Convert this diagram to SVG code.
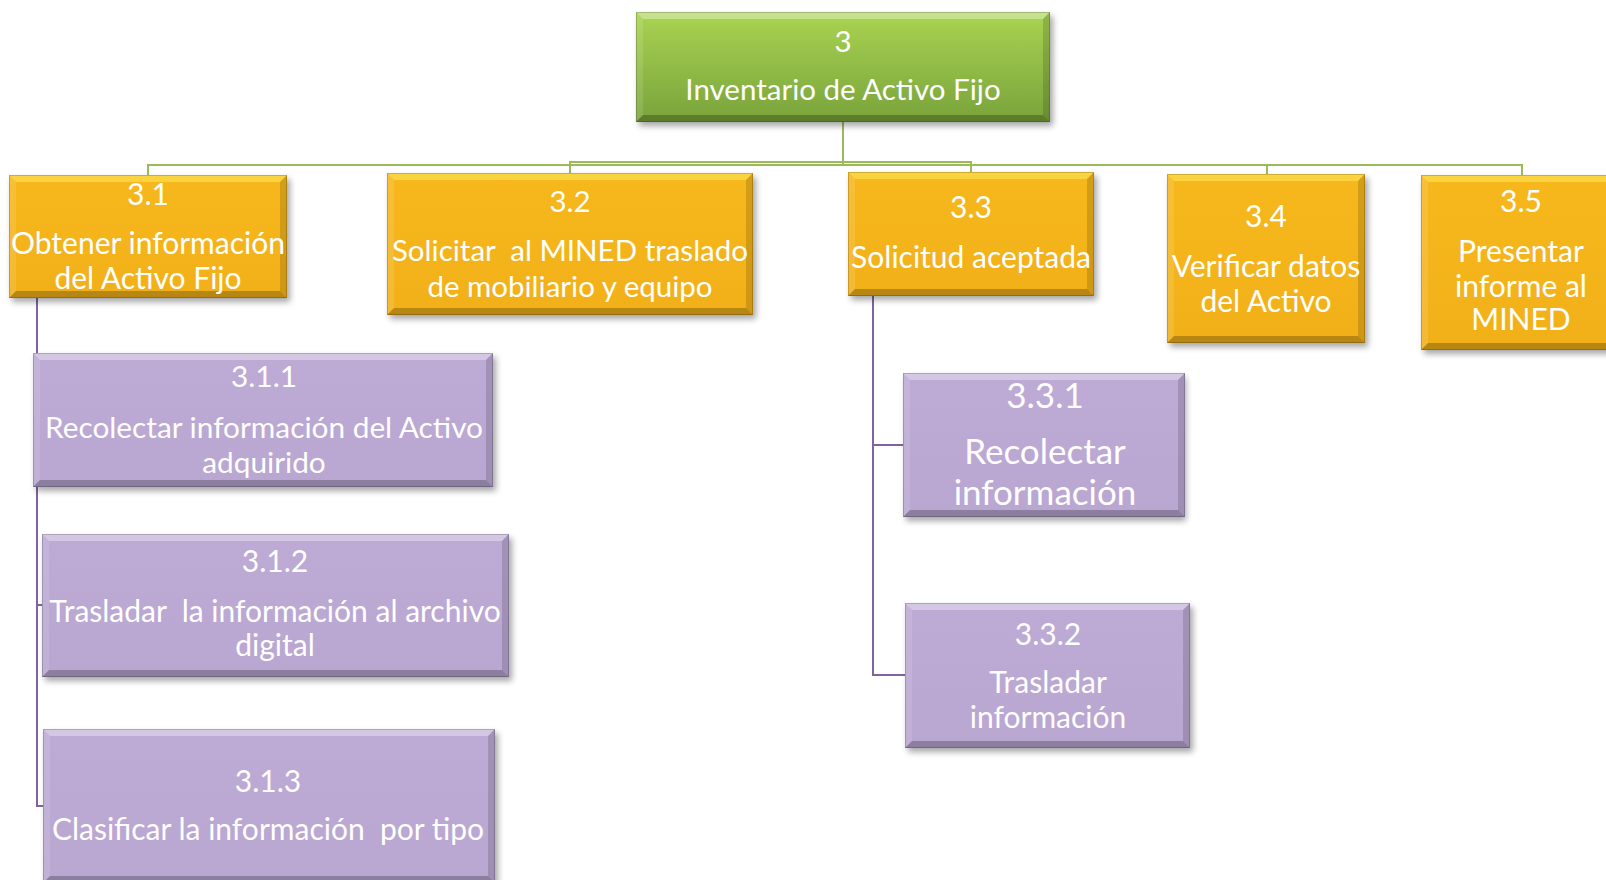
<svg xmlns="http://www.w3.org/2000/svg" width="1606" height="880" viewBox="0 0 1606 880">
  <defs>
    <linearGradient id="gGreen" x1="0" y1="0" x2="0" y2="1">
      <stop offset="0" stop-color="#a9d452"/>
      <stop offset="1" stop-color="#79a33b"/>
    </linearGradient>
    <linearGradient id="gOrange" x1="0" y1="0" x2="0" y2="1">
      <stop offset="0" stop-color="#f6b81d"/>
      <stop offset="1" stop-color="#f2b018"/>
    </linearGradient>
    <linearGradient id="gPurple" x1="0" y1="0" x2="0" y2="1">
      <stop offset="0" stop-color="#bdaad5"/>
      <stop offset="1" stop-color="#b9a6d1"/>
    </linearGradient>
    <filter id="soft" x="-10%" y="-10%" width="130%" height="140%">
      <feGaussianBlur stdDeviation="3"/>
    </filter>
  </defs>
  <style>
    .shadow { fill: #000; opacity: 0.35; filter: url(#soft); }
    .green { fill: url(#gGreen); }
    .orange { fill: url(#gOrange); }
    .purple { fill: url(#gPurple); }
    .bt { fill: #fff; opacity: 0.35; }
    .orange + .bt { fill: #fff36a; opacity: 0.45; }
    .bl { fill: #fff; opacity: 0.12; }
    .br { fill: #000; opacity: 0.14; }
    .bb { fill: #000; opacity: 0.24; }
    .edge { fill: none; stroke: #000; stroke-opacity: 0.18; stroke-width: 1; }
    text { font-family: Lato, "Liberation Sans", sans-serif; fill: #fff; text-anchor: middle; white-space: pre; }
    .t29 { font-size: 29.5px; }
    .t30 { font-size: 30px; }
    .t298 { font-size: 29.8px; }
    .t35 { font-size: 35px; }
    .lnG { fill: none; stroke: #9bbb59; stroke-width: 2; }
    .lnP { fill: none; stroke: #8064a2; stroke-width: 2; }
  </style>

  <!-- connectors -->
  <g id="connectors">
    <path class="lnG" d="M843,122 V165 H148 V175"/>
    <path class="lnG" d="M843,122 V162 H570 V173"/>
    <path class="lnG" d="M843,122 V162 H971 V172"/>
    <path class="lnG" d="M843,122 V165 H1267 V174"/>
    <path class="lnG" d="M843,122 V165 H1522 V175"/>
    <path class="lnP" d="M37,298 V420 H34"/>
    <path class="lnP" d="M37,298 V605 H42"/>
    <path class="lnP" d="M37,298 V806 H43"/>
    <path class="lnP" d="M873,296 V445 H905"/>
    <path class="lnP" d="M873,296 V675 H905"/>
  </g>

  <!-- 3 -->
  <g id="n3">
    <rect class="shadow" x="639" y="16" width="414" height="110"/>
    <rect class="green" x="636" y="12" width="414" height="110"/>
    <polygon class="bt" points="636,12 1050,12 1043,19 643,19"/>
    <polygon class="bl" points="636,12 643,19 643,115 636,122"/>
    <polygon class="br" points="1050,12 1050,122 1043,115 1043,19"/>
    <polygon class="bb" points="636,122 643,115 1043,115 1050,122"/>
    <rect class="edge" x="636.5" y="12.5" width="413" height="109"/>
    <text class="t29" x="843" y="52">3</text>
    <text class="t29" x="843" y="100">Inventario de Activo Fijo</text>
  </g>

  <!-- 3.1 -->
  <g id="n3_1">
    <rect class="shadow" x="12" y="179" width="278" height="123"/>
    <rect class="orange" x="9" y="175" width="278" height="123"/>
    <polygon class="bt" points="9,175 287,175 280,182 16,182"/>
    <polygon class="bl" points="9,175 16,182 16,291 9,298"/>
    <polygon class="br" points="287,175 287,298 280,291 280,182"/>
    <polygon class="bb" points="9,298 16,291 280,291 287,298"/>
    <rect class="edge" x="9.5" y="175.5" width="277" height="122"/>
    <text class="t30" x="148" y="205">3.1</text>
    <text class="t30" x="148" y="254">Obtener información</text>
    <text class="t30" x="148" y="289">del Activo Fijo</text>
  </g>

  <!-- 3.2 -->
  <g id="n3_2">
    <rect class="shadow" x="390" y="177" width="366" height="142"/>
    <rect class="orange" x="387" y="173" width="366" height="142"/>
    <polygon class="bt" points="387,173 753,173 746,180 394,180"/>
    <polygon class="bl" points="387,173 394,180 394,308 387,315"/>
    <polygon class="br" points="753,173 753,315 746,308 746,180"/>
    <polygon class="bb" points="387,315 394,308 746,308 753,315"/>
    <rect class="edge" x="387.5" y="173.5" width="365" height="141"/>
    <text class="t29" x="570" y="212">3.2</text>
    <text class="t29" x="570" y="261">Solicitar  al MINED traslado</text>
    <text class="t29" x="570" y="297">de mobiliario y equipo</text>
  </g>

  <!-- 3.3 -->
  <g id="n3_3">
    <rect class="shadow" x="851" y="176" width="246" height="124"/>
    <rect class="orange" x="848" y="172" width="246" height="124"/>
    <polygon class="bt" points="848,172 1094,172 1087,179 855,179"/>
    <polygon class="bl" points="848,172 855,179 855,289 848,296"/>
    <polygon class="br" points="1094,172 1094,296 1087,289 1087,179"/>
    <polygon class="bb" points="848,296 855,289 1087,289 1094,296"/>
    <rect class="edge" x="848.5" y="172.5" width="245" height="123"/>
    <text class="t30" x="971" y="218">3.3</text>
    <text class="t30" x="971" y="268">Solicitud aceptada</text>
  </g>

  <!-- 3.4 -->
  <g id="n3_4">
    <rect class="shadow" x="1170" y="178" width="198" height="169"/>
    <rect class="orange" x="1167" y="174" width="198" height="169"/>
    <polygon class="bt" points="1167,174 1365,174 1358,181 1174,181"/>
    <polygon class="bl" points="1167,174 1174,181 1174,336 1167,343"/>
    <polygon class="br" points="1365,174 1365,343 1358,336 1358,181"/>
    <polygon class="bb" points="1167,343 1174,336 1358,336 1365,343"/>
    <rect class="edge" x="1167.5" y="174.5" width="197" height="168"/>
    <text class="t30" x="1266" y="227">3.4</text>
    <text class="t30" x="1266" y="277">Verificar datos</text>
    <text class="t30" x="1266" y="312">del Activo</text>
  </g>

  <!-- 3.5 -->
  <g id="n3_5">
    <rect class="shadow" x="1424" y="179" width="200" height="175"/>
    <rect class="orange" x="1421" y="175" width="200" height="175"/>
    <polygon class="bt" points="1421,175 1621,175 1614,182 1428,182"/>
    <polygon class="bl" points="1421,175 1428,182 1428,343 1421,350"/>
    <polygon class="bb" points="1421,350 1428,343 1614,343 1621,350"/>
    <rect class="edge" x="1421.5" y="175.5" width="199" height="174"/>
    <text class="t30" x="1521" y="212">3.5</text>
    <text class="t30" x="1521" y="262">Presentar</text>
    <text class="t30" x="1521" y="297">informe al</text>
    <text class="t30" x="1521" y="330">MINED</text>
  </g>

  <!-- 3.1.1 -->
  <g id="n3_1_1">
    <rect class="shadow" x="36" y="357" width="460" height="134"/>
    <rect class="purple" x="33" y="353" width="460" height="134"/>
    <polygon class="bt" points="33,353 493,353 486,360 40,360"/>
    <polygon class="bl" points="33,353 40,360 40,480 33,487"/>
    <polygon class="br" points="493,353 493,487 486,480 486,360"/>
    <polygon class="bb" points="33,487 40,480 486,480 493,487"/>
    <rect class="edge" x="33.5" y="353.5" width="459" height="133"/>
    <text class="t298" x="264" y="387">3.1.1</text>
    <text class="t298" x="264" y="438">Recolectar información del Activo</text>
    <text class="t298" x="264" y="473">adquirido</text>
  </g>

  <!-- 3.1.2 -->
  <g id="n3_1_2">
    <rect class="shadow" x="45" y="538" width="467" height="143"/>
    <rect class="purple" x="42" y="534" width="467" height="143"/>
    <polygon class="bt" points="42,534 509,534 502,541 49,541"/>
    <polygon class="bl" points="42,534 49,541 49,670 42,677"/>
    <polygon class="br" points="509,534 509,677 502,670 502,541"/>
    <polygon class="bb" points="42,677 49,670 502,670 509,677"/>
    <rect class="edge" x="42.5" y="534.5" width="466" height="142"/>
    <text class="t30" x="275" y="572">3.1.2</text>
    <text class="t30" x="275" y="622">Trasladar  la información al archivo</text>
    <text class="t30" x="275" y="656">digital</text>
  </g>

  <!-- 3.1.3 -->
  <g id="n3_1_3">
    <rect class="shadow" x="46" y="733" width="452" height="154"/>
    <rect class="purple" x="43" y="729" width="452" height="154"/>
    <polygon class="bt" points="43,729 495,729 488,736 50,736"/>
    <polygon class="bl" points="43,729 50,736 50,876 43,883"/>
    <polygon class="br" points="495,729 495,883 488,876 488,736"/>
    <polygon class="bb" points="43,883 50,876 488,876 495,883"/>
    <rect class="edge" x="43.5" y="729.5" width="451" height="153"/>
    <text class="t30" x="268" y="792">3.1.3</text>
    <text class="t30" x="268" y="840">Clasificar la información  por tipo</text>
  </g>

  <!-- 3.3.1 -->
  <g id="n3_3_1">
    <rect class="shadow" x="906" y="377" width="280" height="144"/>
    <rect class="purple" x="903" y="373" width="282" height="144"/>
    <polygon class="bt" points="903,373 1185,373 1178,380 910,380"/>
    <polygon class="bl" points="903,373 910,380 910,510 903,517"/>
    <polygon class="br" points="1185,373 1185,517 1178,510 1178,380"/>
    <polygon class="bb" points="903,517 910,510 1178,510 1185,517"/>
    <rect class="edge" x="903.5" y="373.5" width="281" height="143"/>
    <text class="t35" x="1045" y="408">3.3.1</text>
    <text class="t35" x="1045" y="464">Recolectar</text>
    <text class="t35" x="1045" y="505">información</text>
  </g>

  <!-- 3.3.2 -->
  <g id="n3_3_2">
    <rect class="shadow" x="908" y="607" width="285" height="145"/>
    <rect class="purple" x="905" y="603" width="285" height="145"/>
    <polygon class="bt" points="905,603 1190,603 1183,610 912,610"/>
    <polygon class="bl" points="905,603 912,610 912,741 905,748"/>
    <polygon class="br" points="1190,603 1190,748 1183,741 1183,610"/>
    <polygon class="bb" points="905,748 912,741 1183,741 1190,748"/>
    <rect class="edge" x="905.5" y="603.5" width="284" height="144"/>
    <text class="t30" x="1048" y="645">3.3.2</text>
    <text class="t30" x="1048" y="693">Trasladar</text>
    <text class="t30" x="1048" y="728">información</text>
  </g>
</svg>
